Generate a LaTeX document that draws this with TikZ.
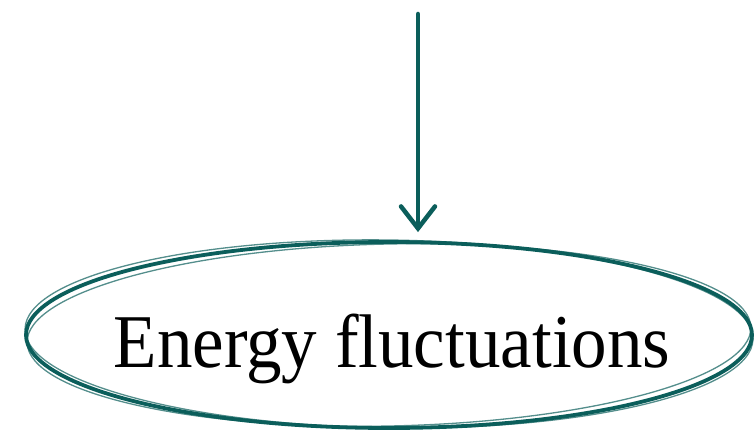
\documentclass[tikz,border=0pt]{standalone}
\usepackage{fontspec}
\setmainfont{Liberation Serif}
\usetikzlibrary{arrows.meta,shapes.geometric}
\definecolor{brushteal}{HTML}{0B5E5B}
\tikzset{
  brush/.style={draw=brushteal, line width=3.8pt},
  brushthin/.style={draw=brushteal, line width=1.3pt, opacity=0.7},
  label/.style={font=\fontsize{71}{80}\selectfont, inner sep=0pt, anchor=base},
  flow/.style={draw=brushteal, line width=4.5pt, line cap=round,
    -{Straight Barb[length=22pt,width=34pt,line cap=round]}}
}
\begin{document}
\begin{tikzpicture}[x=1pt,y=1pt]
\useasboundingbox (0,0) rectangle (754,434);
\node[ellipse, brush, minimum width=726pt, minimum height=186pt, inner sep=0pt] (ell) at (389,99) {};
\draw[brushthin, rotate around={1.2:(389,99)}] (389,99) ellipse [x radius=362pt, y radius=91pt];
\draw[brushthin, rotate around={-0.8:(389,99)}] (389,100) ellipse [x radius=364pt, y radius=94pt];
\node[label] (txt) at (392,67) {\scalebox{1}[1.07]{Energy fluctuations}};
\coordinate (src) at (418,420);
\draw[flow, shorten >=8pt] (src) -- (ell.north -| src);
\end{tikzpicture}
\end{document}
